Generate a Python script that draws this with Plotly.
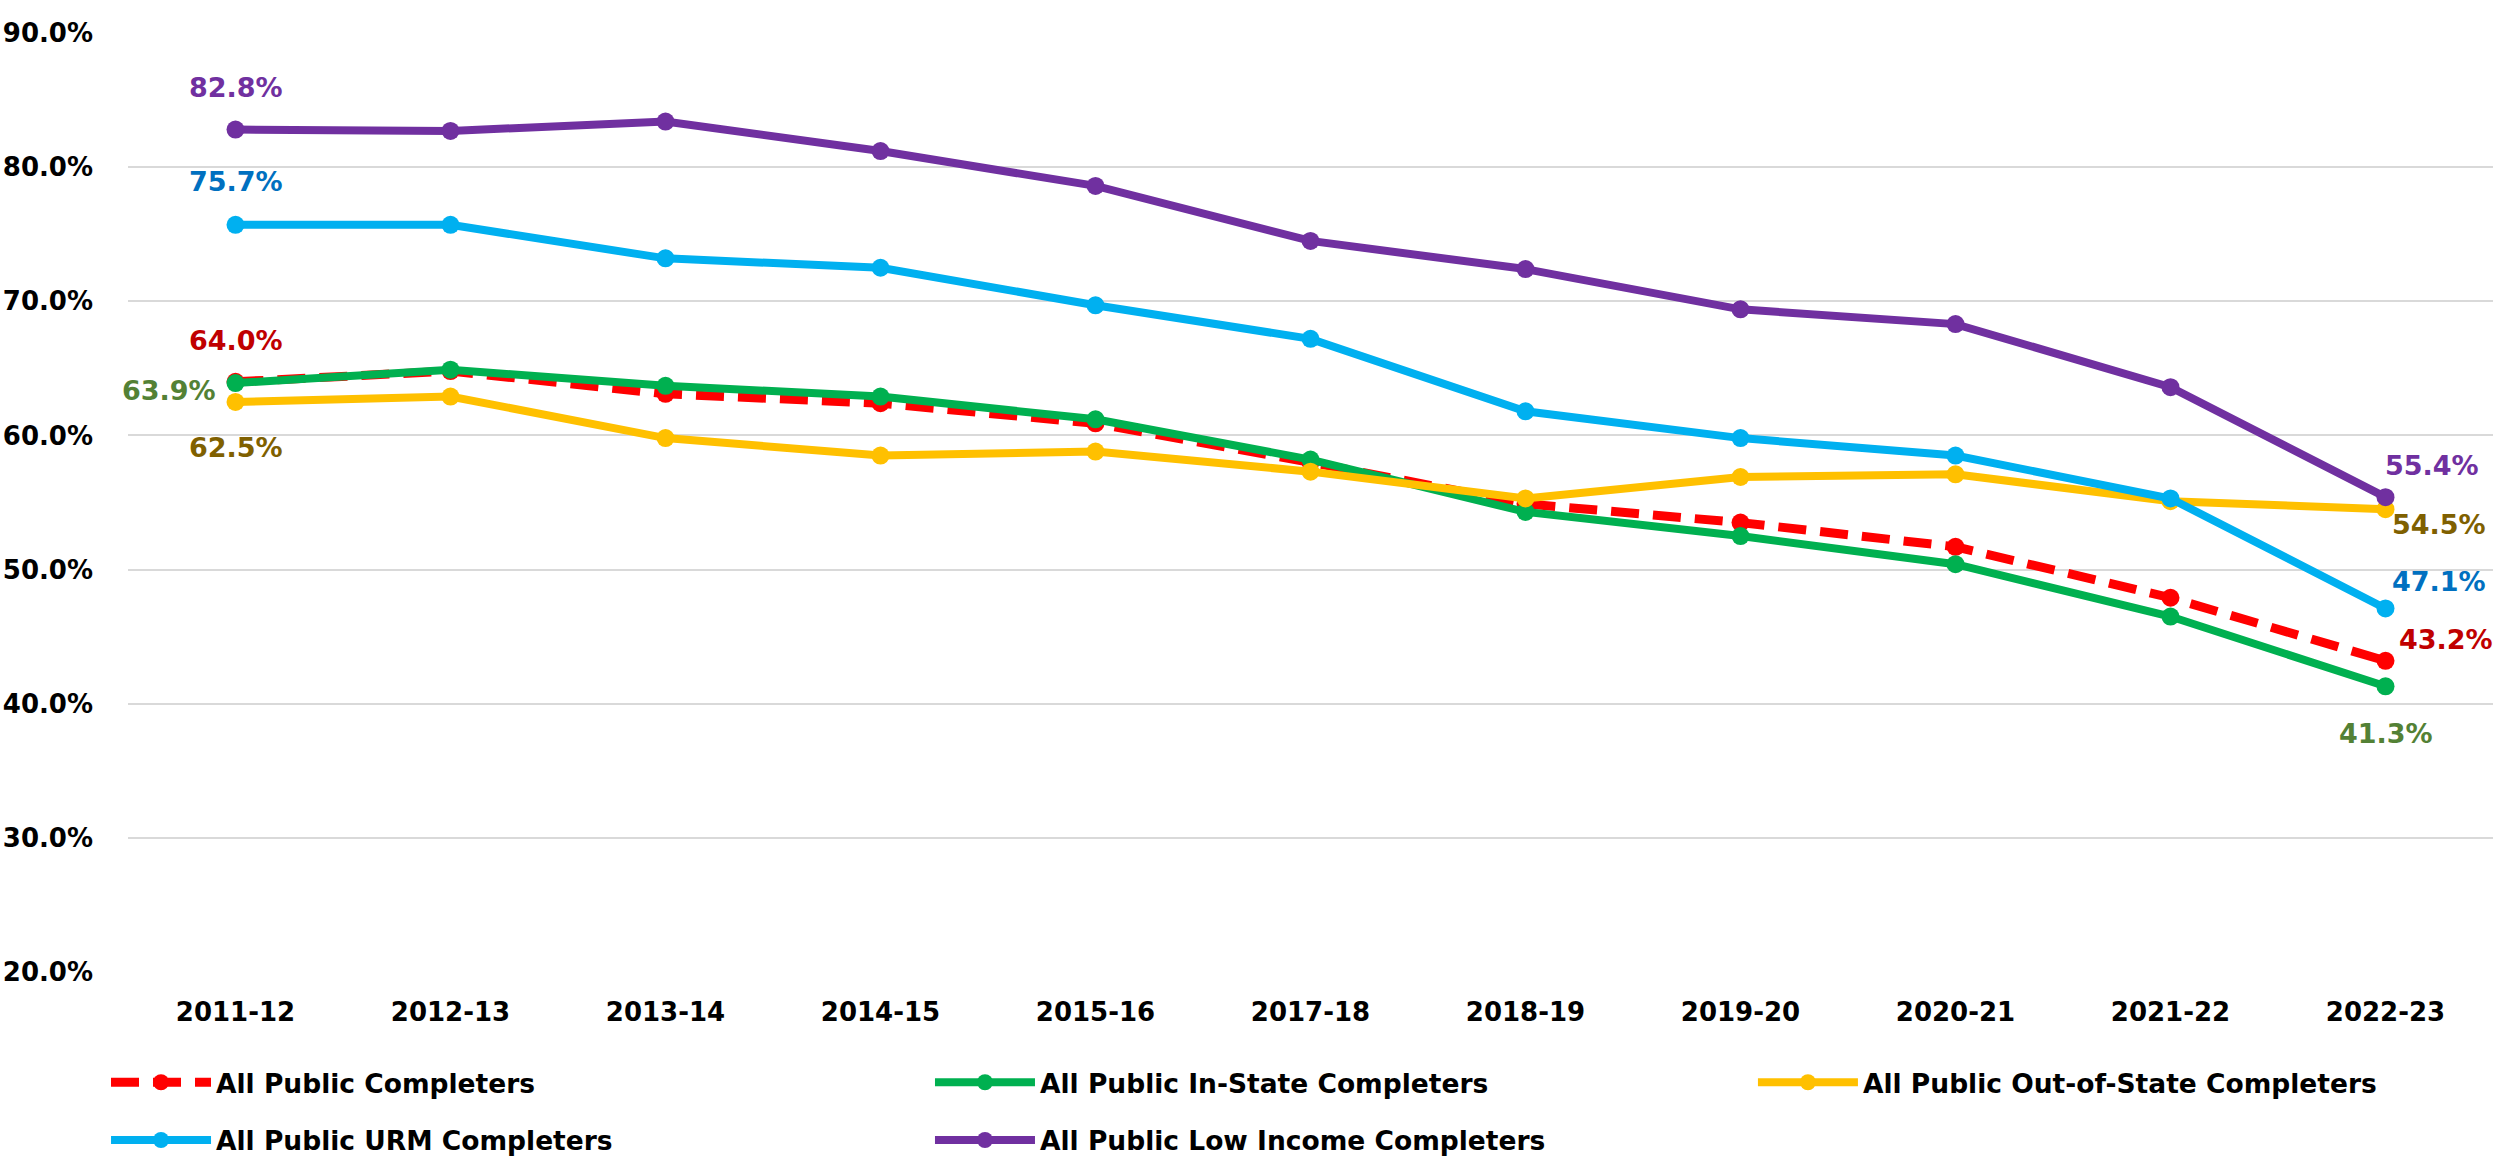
import plotly.graph_objects as go

categories = ["2011-12", "2012-13", "2013-14", "2014-15", "2015-16", "2017-18",
              "2018-19", "2019-20", "2020-21", "2021-22", "2022-23"]

all_public = [64.0, 64.8, 63.1, 62.4, 60.9, 58.0, 54.9, 53.5, 51.7, 47.9, 43.2]
in_state = [63.9, 64.9, 63.7, 62.9, 61.2, 58.2, 54.3, 52.5, 50.4, 46.5, 41.3]
out_of_state = [62.5, 62.9, 59.8, 58.5, 58.8, 57.3, 55.3, 56.9, 57.1, 55.1, 54.5]
urm = [75.7, 75.7, 73.2, 72.5, 69.7, 67.2, 61.8, 59.8, 58.5, 55.3, 47.1]
low_income = [82.8, 82.7, 83.4, 81.2, 78.6, 74.5, 72.4, 69.4, 68.3, 63.6, 55.4]

series_names = ["All Public Completers", "All Public In-State Completers",
                "All Public Out-of-State Completers", "All Public URM Completers",
                "All Public Low Income Completers"]
y_ticks = [20, 30, 40, 50, 60, 70, 80, 90]

FONT = "DejaVu Sans"
FS = 26

styles = [
    dict(data=all_public, line="#FF0000", label="#C00000", dash="28px,14px", width=9,
         first=(0, 41), last=(60, 21)),
    dict(data=in_state, line="#00B050", label="#538135", dash="solid", width=8,
         first=(-67, -7), last=(0, -47)),
    dict(data=out_of_state, line="#FFC000", label="#7F6000", dash="solid", width=8,
         first=(0, -46), last=(53, -15)),
    dict(data=urm, line="#00B0F0", label="#0070C0", dash="solid", width=8,
         first=(0, 43), last=(53, 27)),
    dict(data=low_income, line="#7030A0", label="#7030A0", dash="solid", width=8,
         first=(0, 42), last=(46, 32)),
]

# legend placement (pixel targets of legend symbol start, row centers)
L_PLOT, R_PLOT, T_PLOT, B_PLOT = 125, 2493, 33, 976
PW, PH = R_PLOT - L_PLOT, B_PLOT - T_PLOT
legend_slots = [(108, 1087), (933, 1087), (1757, 1087), (108, 1145), (933, 1145)]

fig = go.Figure()
annotations = []
legend_layouts = {}
for i, (name, st) in enumerate(zip(series_names, styles)):
    lname = "legend" if i == 0 else f"legend{i + 1}"
    fig.add_trace(go.Scatter(
        x=categories, y=st["data"], name=name, mode="lines+markers",
        line=dict(color=st["line"], width=st["width"], dash=st["dash"]),
        marker=dict(color=st["line"], size=18),
        legend=lname, cliponaxis=False,
    ))
    for idx, key in ((0, "first"), (len(categories) - 1, "last")):
        dx, dy = st[key]
        annotations.append(dict(
            x=categories[idx], y=st["data"][idx], xref="x", yref="y",
            text=f"{st['data'][idx]:.1f}%", showarrow=False,
            xshift=dx, yshift=dy, xanchor="center", yanchor="middle",
            font=dict(family=FONT, size=FS + 1, color=st["label"], weight="bold"),
        ))
    sx, sy = legend_slots[i]
    legend_layouts[lname] = dict(
        x=(sx - 5 - L_PLOT) / PW, y=-(sy - B_PLOT) / PH,
        xanchor="left", yanchor="middle", orientation="h",
        itemwidth=100, bgcolor="rgba(0,0,0,0)", borderwidth=0,
        font=dict(family=FONT, size=FS + 0.5, color="#000000", weight="bold"),
    )

fig.update_layout(
    width=2496, height=1167, autosize=False,
    margin=dict(l=L_PLOT, r=2496 - R_PLOT, t=T_PLOT, b=1167 - B_PLOT, pad=0),
    paper_bgcolor="white", plot_bgcolor="white",
    showlegend=True,
    annotations=annotations,
    font=dict(family=FONT, size=FS, color="#000000"),
    **legend_layouts,
)
fig.update_xaxes(
    type="category", range=[-0.5, len(categories) - 0.5],
    showgrid=False, showline=False, zeroline=False, ticks="",
    tickfont=dict(family=FONT, size=FS, color="#000000", weight="bold"),
    ticklabelstandoff=22,
)
fig.update_yaxes(
    range=[20, 90], tickvals=y_ticks, ticktext=[f"{v:.1f}%" for v in y_ticks],
    showgrid=True, gridcolor="#D9D9D9", gridwidth=2,
    showline=False, zeroline=False, ticks="",
    tickfont=dict(family=FONT, size=FS, color="#000000", weight="bold"),
    ticklabelstandoff=34,
)

fig.write_html("out.html")
